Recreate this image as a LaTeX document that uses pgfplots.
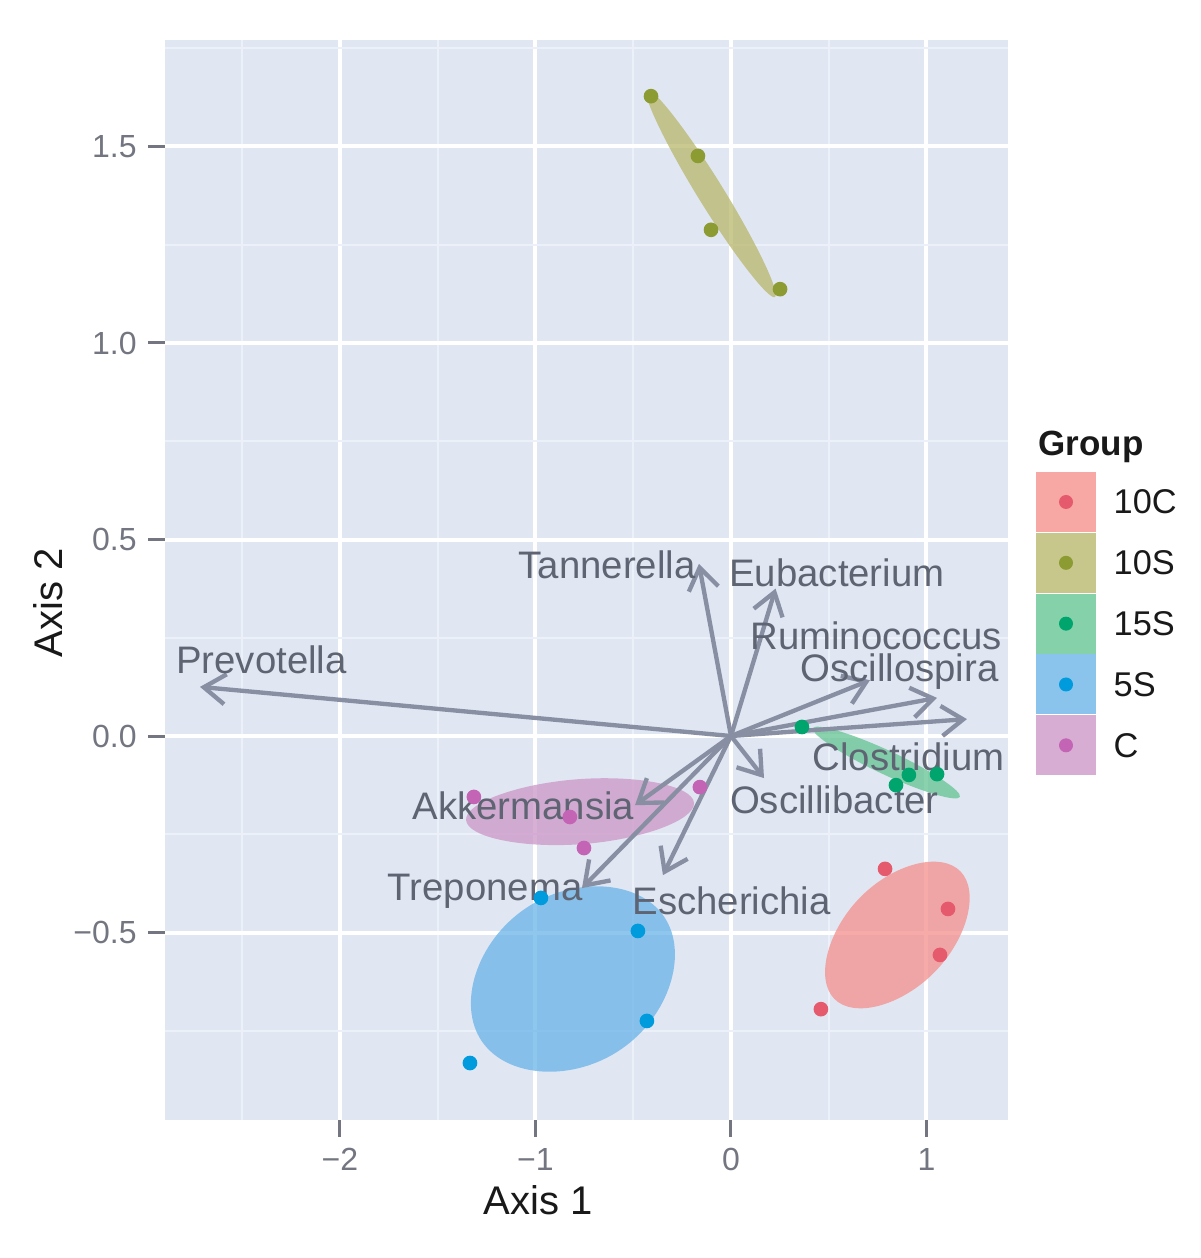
\documentclass[border=0pt]{standalone}
\usepackage{fontspec}
\setmainfont{Liberation Sans}
\usepackage{pgfplots}
\pgfplotsset{compat=1.18}
\usetikzlibrary{arrows.meta}

\definecolor{panelbg}{RGB}{224,231,243}
\definecolor{gridminor}{RGB}{235,240,249}
\definecolor{tickgray}{RGB}{115,118,128}
\definecolor{arrowcol}{RGB}{136,143,162}
\definecolor{labcol}{RGB}{95,100,115}
% ellipse fills
\definecolor{f10C}{RGB}{245,143,139}
\definecolor{f10S}{RGB}{185,183,106}
\definecolor{f15S}{RGB}{99,196,146}
\definecolor{f5S}{RGB}{105,179,232}
\definecolor{fC}{RGB}{205,150,199}
% point colours
\definecolor{p10C}{RGB}{230,90,110}
\definecolor{p10S}{RGB}{140,155,50}
\definecolor{p15S}{RGB}{0,165,110}
\definecolor{p5S}{RGB}{0,155,220}
\definecolor{pC}{RGB}{195,100,180}

\begin{document}
\begin{tikzpicture}
\useasboundingbox (-49.5pt,-41.4pt) rectangle (310.5pt,336pt);
\begin{axis}[
  at={(0,0)}, anchor=south west,
  scale only axis, width=252.9pt, height=324pt,
  xmin=-2.895, xmax=1.417, ymin=-0.977, ymax=1.771,
  axis background/.style={fill=panelbg},
  axis line style={draw=none},
  xtick={-2,-1,0,1}, xticklabels={−2,−1,0,1},
  ytick={-0.5,0,0.5,1,1.5}, yticklabels={−0.5,0.0,0.5,1.0,1.5},
  minor xtick={-2.5,-1.5,-0.5,0.5},
  minor ytick={-0.75,-0.25,0.25,0.75,1.25,1.75},
  grid=both,
  major grid style={white, line width=1.2pt},
  minor grid style={gridminor, line width=0.5pt},
  tick align=outside, major tick length=5pt, minor tick length=0pt,
  tick pos=left,
  tick style={tickgray, line width=0.9pt},
  ticklabel style={font=\fontsize{9.6}{11}\selectfont, text=tickgray},
  clip=false,
  ell/.style={draw=none, fill opacity=0.75, smooth cycle, tension=0.95},
  pts/.style={only marks, mark=*, mark size=2pt},
  arr/.style={arrowcol, solid, mark=none, line width=1.3pt,
    -{Straight Barb[length=6.5pt,width=9pt]}},
]
% confidence ellipses
\addplot[ell, fill=f10C] coordinates
  {(1.173,-0.344) (1.041,-0.601) (0.529,-0.669) (0.662,-0.410)};
\addplot[ell, fill=f10S] coordinates
  {(0.225,1.117) (-0.159,1.363) (-0.430,1.644) (-0.046,1.398)};
\addplot[ell, fill=f15S] coordinates
  {(1.171,-0.155) (0.769,-0.095) (0.419,0.020) (0.821,-0.040)};
\addplot[ell, fill=f5S] coordinates
  {(-0.343,-0.459) (-0.562,-0.797) (-1.274,-0.777) (-1.055,-0.440)};
\addplot[ell, fill=fC] coordinates
  {(-0.189,-0.170) (-0.760,-0.275) (-1.355,-0.214) (-0.785,-0.110)};
% samples
\addplot[pts, p10C] coordinates
  {(0.788,-0.338) (1.110,-0.440) (1.069,-0.557) (0.460,-0.695)};
\addplot[pts, p10S] coordinates
  {(-0.409,1.628) (-0.169,1.476) (-0.102,1.288) (0.251,1.137)};
\addplot[pts, p15S] coordinates
  {(0.363,0.023) (0.844,-0.125) (0.910,-0.099) (1.054,-0.097)};
\addplot[pts, p5S] coordinates
  {(-0.972,-0.412) (-0.476,-0.496) (-0.430,-0.725) (-1.335,-0.832)};
\addplot[pts, pC] coordinates
  {(-1.315,-0.155) (-0.824,-0.206) (-0.752,-0.285) (-0.159,-0.130)};
% taxa loadings
\addplot[arr] coordinates {(0,0) (-2.716,0.125)};
\addplot[arr] coordinates {(0,0) (-0.164,0.438)};
\addplot[arr] coordinates {(0,0) (0.228,0.375)};
\addplot[arr] coordinates {(0,0) (0.711,0.142)};
\addplot[arr] coordinates {(0,0) (1.054,0.097)};
\addplot[arr] coordinates {(0,0) (1.207,0.043)};
\addplot[arr] coordinates {(0,0) (0.169,-0.107)};
\addplot[arr] coordinates {(0,0) (-0.491,-0.176)};
\addplot[arr] coordinates {(0,0) (-0.762,-0.387)};
\addplot[arr] coordinates {(0,0) (-0.348,-0.354)};
\begin{scope}[every node/.style={text=labcol, font=\fontsize{11.5}{13}\selectfont, inner sep=0pt}]
\node at (axis cs:-2.401,0.193) {Prevotella};
\node at (axis cs:-0.634,0.435) {Tannerella};
\node at (axis cs:0.542,0.415) {Eubacterium};
\node at (axis cs:0.742,0.254) {Ruminococcus};
\node at (axis cs:0.862,0.163) {Oscillospira};
\node at (axis cs:0.908,-0.053) {Clostridium};
\node at (axis cs:0.529,-0.163) {Oscillibacter};
\node at (axis cs:-1.061,-0.178) {Akkermansia};
\node at (axis cs:-1.258,-0.394) {Treponema};
\node at (axis cs:0.003,-0.420) {Escherichia};
\end{scope}
\end{axis}
% axis titles
\node[font=\fontsize{12}{14}\selectfont, text=black!90] at (111.9pt,-24pt) {Axis 1};
\node[font=\fontsize{12}{14}\selectfont, text=black!90, rotate=90] at (-35.1pt,155.1pt) {Axis 2};
% legend
\node[anchor=west, font=\bfseries\fontsize{10.5}{12}\selectfont, text=black!90, inner sep=0pt] at (261.9pt,201.9pt) {Group};
\foreach \f/\p/\t [count=\i from 0] in {f10C/p10C/10C, f10S/p10S/10S, f15S/p15S/15S, f5S/p5S/5S, fC/pC/C}{
  \pgfmathsetmacro{\yt}{194.4-18.25*\i}
  \fill[\f!78!white] (261.3pt,\yt pt) rectangle (279.3pt,\yt pt-18pt);
  \fill[\p] (270.3pt,\yt pt-9pt) circle (2.1pt);
  \node[anchor=west, inner sep=0pt, font=\fontsize{10.3}{12}\selectfont, text=black!90] at (284.4pt,\yt pt-9pt) {\t};
}
\end{tikzpicture}
\end{document}
